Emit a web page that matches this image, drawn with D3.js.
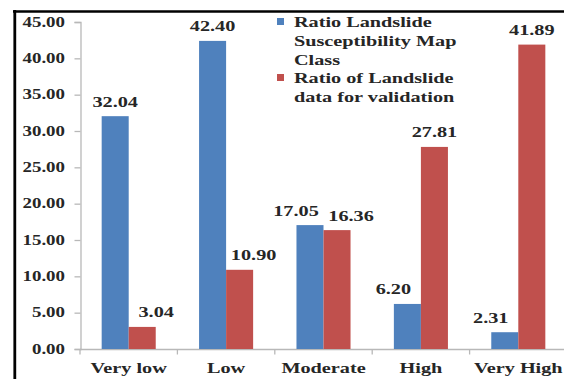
<!DOCTYPE html>
<html>
<head>
<meta charset="utf-8">
<script src="https://cdn.jsdelivr.net/npm/d3@7"></script>
<style>
  html, body { margin: 0; padding: 0; background: #fff; }
  svg { display: block; }
  text { font-family: "Liberation Serif", "Times New Roman", serif; font-weight: bold; fill: #262626; }
</style>
</head>
<body>
<svg id="chart" width="564" height="379"></svg>
<script>
// Landslide susceptibility classes and the two ratios per class (%)
const categories = ["Very low", "Low", "Moderate", "High", "Very High"];
const susceptibilityRatio = [32.04, 42.40, 17.05, 6.20, 2.31];
const validationRatio = [3.04, 10.90, 16.36, 27.81, 41.89];
const seriesNames = [
  ["Ratio Landslide", "Susceptibility Map", "Class"],
  ["Ratio of Landslide", "data for validation"]
];
const yTicks = [0, 5, 10, 15, 20, 25, 30, 35, 40, 45];

const colors = ["#4F81BD", "#C0504D"];
const W = 564, H = 379;
const textStretch = 1.35; // wide serif lettering

const svg = d3.select("#chart");

// stretched text helper
function label(g, x, y, str, size, anchor) {
  const t = g.append("g").attr("transform", `translate(${x},${y}) scale(${textStretch},1)`);
  t.append("text").attr("text-anchor", anchor).attr("font-size", size).text(str);
  return t;
}

const x0 = d3.scaleBand().domain(categories).range([80, 567])
  .paddingInner(0.445).paddingOuter(0.2225);
const x1 = d3.scaleBand().domain([0, 1]).range([0, x0.bandwidth()]);
const y = d3.scaleLinear().domain([0, 45]).range([349, 22]);

// outer frame (top and left edges visible)
svg.append("line").attr("x1", 13).attr("x2", W).attr("y1", 11.5).attr("y2", 11.5)
  .attr("stroke", "#000").attr("stroke-width", 2.6);
svg.append("line").attr("x1", 14.8).attr("x2", 14.8).attr("y1", 10).attr("y2", H)
  .attr("stroke", "#000").attr("stroke-width", 2.8);

// y axis
const yAxis = svg.append("g").attr("transform", "translate(80.5,0)")
  .call(d3.axisLeft(y).tickValues(yTicks).tickSize(6).tickPadding(0).tickFormat(() => ""));
yAxis.select(".domain").attr("stroke", "#b8b8b8").attr("stroke-width", 1.3);
yAxis.selectAll(".tick line").attr("stroke", "#b8b8b8").attr("stroke-width", 1.3);
yTicks.forEach(v => label(svg, 65, y(v) + 4.5, d3.format(".2f")(v), 14, "end"));

// x axis
const xAxisG = svg.append("g").attr("transform", "translate(0,349.5)");
xAxisG.append("line").attr("x1", 80).attr("x2", W).attr("stroke", "#b8b8b8").attr("stroke-width", 1.3);
const step = x0.step();
d3.range(categories.length + 1).forEach(i => {
  const bx = x0.range()[0] + i * step;
  xAxisG.append("line").attr("x1", bx).attr("x2", bx).attr("y1", 0).attr("y2", 5)
    .attr("stroke", "#b8b8b8").attr("stroke-width", 1.3);
});
categories.forEach(c => label(svg, x0(c) + x0.bandwidth() / 2, 373, c, 15, "middle"));

// bars and value labels
const series = [susceptibilityRatio, validationRatio];
series.forEach((vals, s) => {
  svg.append("g").selectAll("rect").data(vals).join("rect")
    .attr("x", (d, i) => x0(categories[i]) + x1(s))
    .attr("y", d => y(d))
    .attr("width", x1.bandwidth())
    .attr("height", d => y(0) - y(d))
    .attr("fill", colors[s]);
});
series.forEach((vals, s) => {
  const other = series[1 - s];
  vals.forEach((v, i) => {
    // nudge a label outward when the neighbouring bar would crowd it
    const crowded = other[i] > v || Math.abs(other[i] - v) < 3;
    const dir = s === 0 ? -1 : 1;
    const cx = x0(categories[i]) + x1(s) + x1.bandwidth() / 2 + (crowded ? dir * 14 : 0);
    label(svg, cx, y(v) - 9.5, d3.format(".2f")(v), 15, "middle");
  });
});

// legend
const legendBase = [27, 83];
seriesNames.forEach((lines, s) => {
  svg.append("rect").attr("x", 277).attr("y", legendBase[s] - 9).attr("width", 7).attr("height", 7)
    .attr("fill", colors[s]);
  lines.forEach((ln, k) => label(svg, 294, legendBase[s] + k * 18.8, ln, 15, "start"));
});
</script>
</body>
</html>
